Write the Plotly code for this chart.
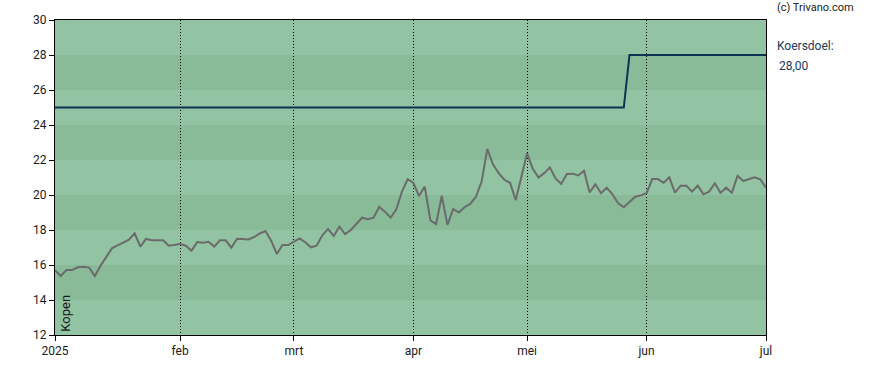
import pandas as pd
import plotly.graph_objects as go

# ---- data ----
holidays = ["2025-04-18", "2025-04-21", "2025-05-01"]
trading_days = [d.strftime("%Y-%m-%d") for d in pd.bdate_range("2025-01-02", "2025-07-01")
                if d.strftime("%Y-%m-%d") not in holidays]

price = [
    15.71, 15.37, 15.71, 15.71, 15.87, 15.90, 15.85, 15.37, 15.95, 16.45,
    16.95, 17.12, 17.30, 17.45, 17.81, 17.05, 17.49, 17.41, 17.41, 17.41,
    17.10, 17.15, 17.20, 17.10, 16.82, 17.31, 17.27, 17.33, 17.05, 17.41,
    17.41, 16.99, 17.50, 17.48, 17.46, 17.60, 17.80, 17.94, 17.39, 16.63,
    17.14, 17.14, 17.33, 17.52, 17.30, 17.01, 17.10, 17.70, 18.06, 17.66,
    18.19, 17.77, 18.00, 18.35, 18.70, 18.61, 18.70, 19.33, 19.05, 18.70,
    19.18, 20.19, 20.90, 20.70, 19.94, 20.48, 18.55, 18.34, 19.96, 18.29,
    19.20, 19.00, 19.30, 19.49, 19.90, 20.76, 22.63, 21.75, 21.25, 20.87,
    20.70, 19.71, 21.05, 22.38, 21.50, 21.00, 21.25, 21.58, 20.95, 20.63,
    21.20, 21.22, 21.12, 21.39, 20.15, 20.61, 20.10, 20.42, 20.04, 19.53,
    19.30, 19.62, 19.90, 19.98, 20.10, 20.91, 20.91, 20.70, 21.01, 20.13,
    20.53, 20.53, 20.19, 20.53, 20.04, 20.19, 20.67, 20.13, 20.42, 20.13,
    21.10, 20.80, 20.89, 21.01, 20.89, 20.42,
]

target_dates = ["2025-01-02", "2025-05-27", "2025-05-28", "2025-07-01"]
target_vals = [25.0, 25.0, 28.0, 28.0]

tick_dates = ["2025-01-02", "2025-02-03", "2025-03-03", "2025-04-01", "2025-05-02", "2025-06-02", "2025-07-01"]
tick_labels = ["2025", "feb", "mrt", "apr", "mei", "jun", "jul"]

y_ticks = [12, 14, 16, 18, 20, 22, 24, 26, 28, 30]

# ---- figure ----
LIGHT = "rgb(146,195,162)"
DARK = "rgb(137,187,153)"

fig = go.Figure()
fig.add_trace(go.Scatter(x=trading_days, y=price, mode="lines",
                         line=dict(color="#6b6b6b", width=2), hoverinfo="skip"))
fig.add_trace(go.Scatter(x=target_dates, y=target_vals, mode="lines",
                         line=dict(color="#0b3352", width=2), hoverinfo="skip"))

shapes = []
for k in range(len(y_ticks) - 1):
    lo, hi = y_ticks[k], y_ticks[k + 1]
    color = LIGHT if k % 2 == 0 else DARK
    shapes.append(dict(type="rect", xref="paper", yref="y", x0=0, x1=1, y0=lo, y1=hi,
                       fillcolor=color, line=dict(width=0), layer="below"))

font_family = "Roboto, Arial, sans-serif"
fig.update_layout(
    width=888, height=370,
    margin=dict(l=55, r=122, t=20, b=35),
    paper_bgcolor="white", plot_bgcolor=LIGHT,
    showlegend=False,
    shapes=shapes,
    font=dict(family=font_family, size=12, color="#1a1a1a"),
    xaxis=dict(type="category", categoryorder="array", categoryarray=trading_days,
               range=[0, len(trading_days) - 1],
               tickmode="array", tickvals=tick_dates, ticktext=tick_labels,
               ticks="outside", ticklen=5, tickcolor="black",
               showline=True, linecolor="black", linewidth=1, mirror=True,
               showgrid=True, gridcolor="black", griddash="1px,2px", gridwidth=1,
               zeroline=False, tickfont=dict(size=12)),
    yaxis=dict(range=[12, 30], tickmode="array", tickvals=y_ticks,
               ticks="outside", ticklen=5, tickcolor="black",
               showline=True, linecolor="black", linewidth=1, mirror=True,
               showgrid=False, zeroline=False, tickfont=dict(size=12)),
    annotations=[
        dict(text="(c) Trivano.com", xref="paper", yref="paper", x=1.012, y=1.0,
             xanchor="left", yanchor="bottom", showarrow=False, yshift=4,
             font=dict(size=11, color="#222222")),
        dict(text="Koersdoel:", xref="paper", yref="y", x=1.012, y=28.5,
             xanchor="left", yanchor="middle", showarrow=False,
             font=dict(size=12, color="#173a5a")),
        dict(text="28,00", xref="paper", yref="y", x=1.016, y=27.4,
             xanchor="left", yanchor="middle", showarrow=False,
             font=dict(size=12, color="#173a5a")),
        dict(text="Kopen", xref="paper", yref="paper", x=0.001, y=0.0,
             xanchor="left", yanchor="bottom", showarrow=False, textangle=-90,
             yshift=1, font=dict(size=13, color="#1a1a1a")),
    ],
)

fig.write_html("out.html")
